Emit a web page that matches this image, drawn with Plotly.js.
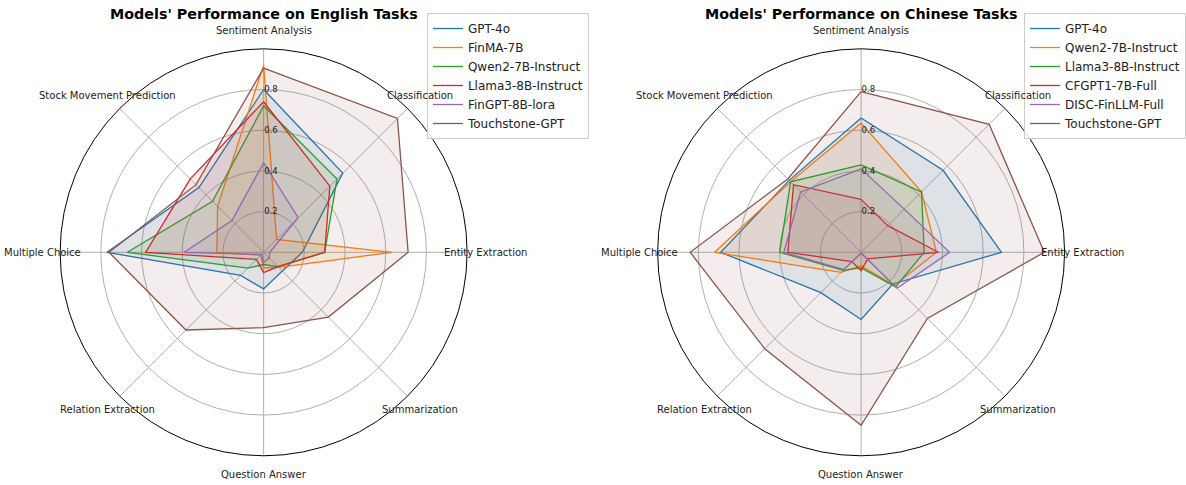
<!DOCTYPE html>
<html>
<head>
<meta charset="utf-8">
<script src="https://cdn.plot.ly/plotly-3.0.1.min.js"></script>
<style>html,body{margin:0;padding:0;background:#fff;}#chart{width:1186px;height:485px;}</style>
</head>
<body>
<div id="chart"></div>
<script>
// Categories (clockwise from top)
const categories = ["Sentiment Analysis", "Classification", "Entity Extraction", "Summarization",
                    "Question Answer", "Relation Extraction", "Multiple Choice", "Stock Movement Prediction"];
const radialTicks = [0.2, 0.4, 0.6, 0.8];

// English tasks
const enModels = ["GPT-4o", "FinMA-7B", "Qwen2-7B-Instruct", "Llama3-8B-Instruct", "FinGPT-8B-lora", "Touchstone-GPT"];
const enGPT4o      = [0.80, 0.55, 0.19, 0.13, 0.18, 0.16, 0.77, 0.45];
const enFinMA      = [0.92, 0.09, 0.63, 0.105, 0.077, 0.02, 0.23, 0.32];
const enQwen2      = [0.72, 0.51, 0.30, 0.10, 0.06, 0.11, 0.67, 0.355];
const enLlama3     = [0.74, 0.46, 0.30, 0.10, 0.10, 0.05, 0.58, 0.51];
const enFinGPT     = [0.44, 0.24, 0.03, 0.04, 0.05, 0.015, 0.39, 0.22];
const enTouchstone = [0.905, 0.93, 0.71, 0.45, 0.37, 0.54, 0.76, 0.47];

// Chinese tasks
const zhModels = ["GPT-4o", "Qwen2-7B-Instruct", "Llama3-8B-Instruct", "CFGPT1-7B-Full", "DISC-FinLLM-Full", "Touchstone-GPT"];
const zhGPT4o      = [0.66, 0.57, 0.69, 0.22, 0.33, 0.28, 0.69, 0.50];
const zhQwen2      = [0.635, 0.42, 0.37, 0.23, 0.067, 0.14, 0.72, 0.49];
const zhLlama3     = [0.43, 0.42, 0.31, 0.24, 0.077, 0.125, 0.40, 0.49];
const zhCFGPT1     = [0.26, 0.185, 0.38, 0.046, 0.09, 0.064, 0.36, 0.47];
const zhDISC       = [0.41, 0.30, 0.435, 0.25, 0.005, 0.12, 0.38, 0.42];
const zhTouchstone = [0.79, 0.89, 0.90, 0.46, 0.85, 0.67, 0.84, 0.51];

const titles = ["Models' Performance on English Tasks", "Models' Performance on Chinese Tasks"];

// ---- styling ----
const colors = ['#1f77b4', '#ff7f0e', '#2ca02c', '#d62728', '#9467bd', '#8c564b'];
function rgba(hex, a) {
  const n = parseInt(hex.slice(1), 16);
  return `rgba(${(n >> 16) & 255},${(n >> 8) & 255},${n & 255},${a})`;
}
const W = 1186, H = 485;
const R = 204;
const centers = [[264.3, 252.3], [863.3, 252.3]];
const FONT = 'DejaVu Sans, sans-serif';

const enSeries = [enGPT4o, enFinMA, enQwen2, enLlama3, enFinGPT, enTouchstone];
const zhSeries = [zhGPT4o, zhQwen2, zhLlama3, zhCFGPT1, zhDISC, zhTouchstone];

const traces = [];
function addSet(models, series, polarId, legendId) {
  const theta = categories.concat([categories[0]]);
  models.forEach((m, i) => {
    const r = series[i].concat([series[i][0]]);
    traces.push({
      type: 'scatterpolar', subplot: polarId, r: r, theta: theta, name: m,
      mode: 'lines', line: {color: colors[i], width: 1.3},
      legend: legendId, showlegend: true, hoverinfo: 'skip'
    });
    traces.push({
      type: 'scatterpolar', subplot: polarId, r: r, theta: theta, name: m,
      mode: 'none', fill: 'toself', fillcolor: rgba(colors[i], 0.1),
      legend: legendId, showlegend: false, hoverinfo: 'skip'
    });
  });
}
addSet(enModels, enSeries, 'polar', 'legend');
addSet(zhModels, zhSeries, 'polar2', 'legend2');

function polarLayout(c) {
  return {
    domain: {
      x: [(c[0] - R) / W, (c[0] + R) / W],
      y: [(H - (c[1] + R)) / H, (H - (c[1] - R)) / H]
    },
    bgcolor: 'rgba(0,0,0,0)',
    angularaxis: {
      direction: 'clockwise', rotation: 90, type: 'category',
      categoryorder: 'array', categoryarray: categories,
      showticklabels: false, ticks: '',
      showline: true, linecolor: '#000000', linewidth: 1,
      showgrid: true, gridcolor: '#b0b0b0', gridwidth: 1
    },
    radialaxis: {
      range: [0, 1], tickvals: radialTicks, ticktext: radialTicks.map(v => v.toFixed(1)),
      showline: false, ticks: '', angle: 90, side: 'clockwise', tickangle: 90,
      tickfont: {family: FONT, size: 8.5, color: '#222'},
      showgrid: true, gridcolor: '#b0b0b0', gridwidth: 1
    }
  };
}

const annotations = [];
centers.forEach((c, k) => {
  annotations.push({
    text: '<b>' + titles[k] + '</b>', xref: 'paper', yref: 'paper',
    x: c[0] / W, y: 1 - 14 / H, xanchor: 'center', yanchor: 'middle', showarrow: false,
    font: {family: FONT, size: 14.3, color: '#000'}
  });
  categories.forEach((cat, i) => {
    const ang = (90 - 45 * i) * Math.PI / 180;
    const px = c[0] + 222 * Math.cos(ang);
    const py = c[1] - 222 * Math.sin(ang);
    annotations.push({
      text: cat, xref: 'paper', yref: 'paper', x: px / W, y: 1 - py / H,
      xanchor: 'center', yanchor: 'middle', showarrow: false,
      font: {family: FONT, size: 10, color: '#222'}
    });
  });
});

const legendStyle = (x) => ({
  x: x, y: 1 - 13 / H, xanchor: 'left', yanchor: 'top',
  bgcolor: 'rgba(255,255,255,0.85)', bordercolor: '#cccccc', borderwidth: 1,
  font: {family: FONT, size: 12, color: '#222'}, tracegroupgap: 0, itemwidth: 30
});

const layout = {
  width: W, height: H,
  margin: {l: 0, r: 0, t: 0, b: 0},
  paper_bgcolor: '#ffffff',
  font: {family: FONT},
  polar: polarLayout(centers[0]),
  polar2: polarLayout(centers[1]),
  legend: legendStyle(428 / W),
  legend2: legendStyle(1027 / W),
  annotations: annotations
};

Plotly.newPlot('chart', traces, layout, {displayModeBar: false, staticPlot: true});
</script>
</body>
</html>
